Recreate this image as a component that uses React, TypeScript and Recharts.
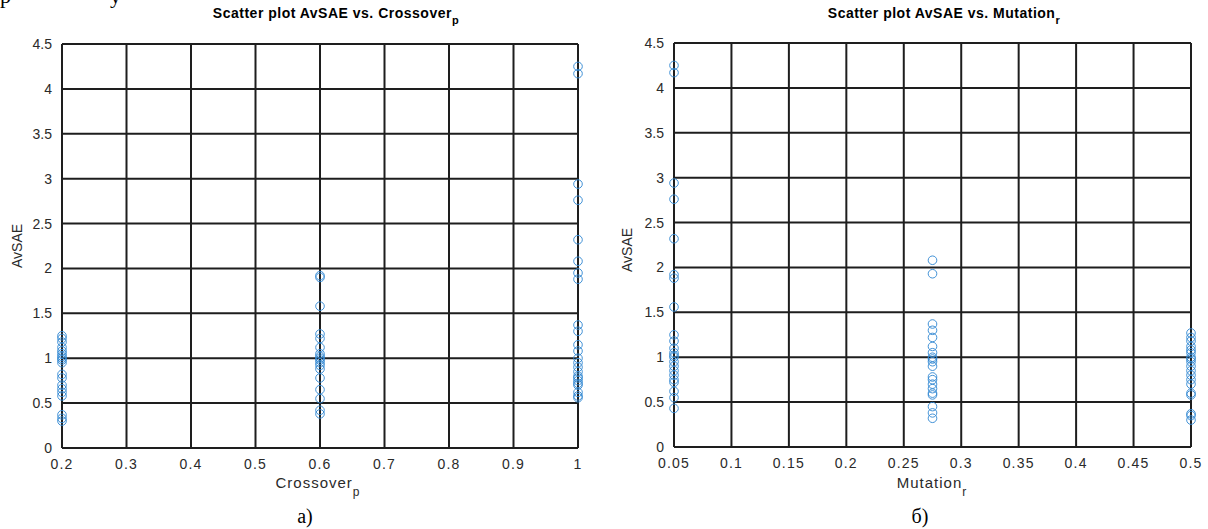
import React from "react";
import { ScatterChart, Scatter, XAxis, YAxis, CartesianGrid } from "recharts";

// ---- Data ----
const crossoverLevels = [0.2, 0.6, 1.0];
const crossover02 = [1.25, 1.22, 1.18, 1.12, 1.08, 1.05, 1.02, 1.0, 0.98, 0.95, 0.82, 0.78, 0.7, 0.66, 0.62, 0.58, 0.37, 0.33, 0.3];
const crossover06 = [1.92, 1.9, 1.58, 1.27, 1.22, 1.12, 1.05, 1.02, 1.0, 0.98, 0.95, 0.92, 0.88, 0.78, 0.65, 0.55, 0.42, 0.38];
const crossover10 = [4.25, 4.17, 2.94, 2.76, 2.32, 2.08, 1.95, 1.88, 1.37, 1.3, 1.15, 1.08, 1.0, 0.95, 0.9, 0.85, 0.8, 0.78, 0.75, 0.72, 0.7, 0.62, 0.58, 0.56];

const mutationLevels = [0.05, 0.275, 0.5];
const mutation005 = [4.25, 4.17, 2.94, 2.76, 2.32, 1.92, 1.88, 1.56, 1.25, 1.18, 1.1, 1.05, 1.02, 1.0, 0.95, 0.9, 0.85, 0.8, 0.75, 0.72, 0.62, 0.55, 0.43];
const mutation0275 = [2.08, 1.93, 1.37, 1.3, 1.22, 1.12, 1.05, 1.0, 0.98, 0.95, 0.9, 0.78, 0.75, 0.7, 0.65, 0.6, 0.58, 0.45, 0.38, 0.32];
const mutation05 = [1.27, 1.22, 1.18, 1.12, 1.08, 1.05, 1.0, 0.98, 0.95, 0.9, 0.85, 0.8, 0.75, 0.7, 0.6, 0.58, 0.37, 0.35, 0.3];

const yTicks = [0, 0.5, 1, 1.5, 2, 2.5, 3, 3.5, 4, 4.5];
const crossoverTicks = [0.2, 0.3, 0.4, 0.5, 0.6, 0.7, 0.8, 0.9, 1];
const mutationTicks = [0.05, 0.1, 0.15, 0.2, 0.25, 0.3, 0.35, 0.4, 0.45, 0.5];

const build = (levels: number[], groups: number[][]) =>
  levels.flatMap((x, i) => groups[i].map((y) => ({ x, y })));

const crossoverData = build(crossoverLevels, [crossover02, crossover06, crossover10]);
const mutationData = build(mutationLevels, [mutation005, mutation0275, mutation05]);

const FONT = "'Liberation Sans', Arial, sans-serif";
const GRID = "#1e1e1e";
const MARK = "#2f86d2";

const Ring = (props: any) => {
  const { cx, cy } = props;
  if (cx == null || cy == null) return null;
  return <circle cx={cx} cy={cy} r={4.3} fill="none" stroke={MARK} strokeWidth={1} strokeOpacity={0.9} />;
};

const xTickStyle = { fontSize: 14, fill: "#2a2a2a", fontFamily: FONT, letterSpacing: 1.2 };
const yTickStyle = { fontSize: 14, fill: "#2a2a2a", fontFamily: FONT };

type PanelProps = {
  data: { x: number; y: number }[];
  domain: [number, number];
  xTicks: number[];
  yWidth: number;
  right: number;
  top: number;
  xHeight: number;
  width: number;
};

const Panel = ({ data, domain, xTicks, yWidth, right, top, xHeight, width }: PanelProps) => (
  <ScatterChart width={width} height={529} margin={{ top, right, bottom: 0, left: 0 }}>
    <CartesianGrid stroke={GRID} strokeWidth={2} fill="#fff" />
    <XAxis
      type="number"
      dataKey="x"
      domain={domain}
      ticks={xTicks}
      interval={0}
      height={xHeight}
      tickLine={false}
      axisLine={{ stroke: GRID, strokeWidth: 2 }}
      tick={xTickStyle}
      tickMargin={5}
      tickFormatter={(v: number) => String(v)}
    />
    <YAxis
      type="number"
      dataKey="y"
      domain={[0, 4.5]}
      ticks={yTicks}
      interval={0}
      width={yWidth}
      tickLine={false}
      axisLine={{ stroke: GRID, strokeWidth: 2 }}
      tick={yTickStyle}
      tickMargin={4}
      tickFormatter={(v: number) => String(v)}
    />
    <Scatter data={data} shape={Ring} isAnimationActive={false} />
  </ScatterChart>
);

export default function App() {
  return (
    <div style={{ position: "absolute", left: 0, top: 0, width: 1208, height: 529, background: "#fff", overflow: "hidden" }}>
      <div style={{ position: "absolute", left: 0, top: 0 }}>
        <Panel data={crossoverData} domain={[0.2, 1]} xTicks={crossoverTicks} width={600} yWidth={62} right={22} top={44} xHeight={81} />
      </div>
      <div style={{ position: "absolute", left: 600, top: 0 }}>
        <Panel data={mutationData} domain={[0.05, 0.5]} xTicks={mutationTicks} width={608} yWidth={74} right={17} top={43} xHeight={82} />
      </div>
      <svg width={1208} height={529} style={{ position: "absolute", left: 0, top: 0, pointerEvents: "none" }}>
        {/* clipped text from the line above */}
        <text x={0} y={3} fontFamily="'Liberation Serif', serif" fontSize={22} fill="#000">р</text>
        <text x={110} y={3} fontFamily="'Liberation Serif', serif" fontSize={22} fill="#000">у</text>

        {/* titles */}
        <text x={336} y={18} textAnchor="middle" fontFamily={FONT} fontSize={14} fontWeight="bold" letterSpacing={0.5} fill="#000">
          Scatter plot AvSAE vs. Crossover
          <tspan fontSize={11} dy={6}>p</tspan>
        </text>
        <text x={944} y={18} textAnchor="middle" fontFamily={FONT} fontSize={14} fontWeight="bold" letterSpacing={0.5} fill="#000">
          Scatter plot AvSAE vs. Mutation
          <tspan fontSize={11} dy={6}>r</tspan>
        </text>

        {/* y labels */}
        <text transform="translate(22,246) rotate(-90)" textAnchor="middle" fontFamily={FONT} fontSize={14} fill="#2a2a2a">AvSAE</text>
        <text transform="translate(632,250) rotate(-90)" textAnchor="middle" fontFamily={FONT} fontSize={14} fill="#2a2a2a">AvSAE</text>

        {/* x labels */}
        <text x={318} y={488} textAnchor="middle" fontFamily={FONT} fontSize={15} letterSpacing={1} fill="#2a2a2a">
          Crossover
          <tspan fontSize={12} dy={8}>p</tspan>
        </text>
        <text x={932} y={488} textAnchor="middle" fontFamily={FONT} fontSize={15} letterSpacing={1} fill="#2a2a2a">
          Mutation
          <tspan fontSize={12} dy={8}>r</tspan>
        </text>

        {/* panel captions */}
        <text x={305} y={523} textAnchor="middle" fontFamily="'Liberation Serif', serif" fontSize={20} fill="#000">а)</text>
        <text x={920} y={523} textAnchor="middle" fontFamily="'Liberation Serif', serif" fontSize={20} fill="#000">б)</text>
      </svg>
    </div>
  );
}
